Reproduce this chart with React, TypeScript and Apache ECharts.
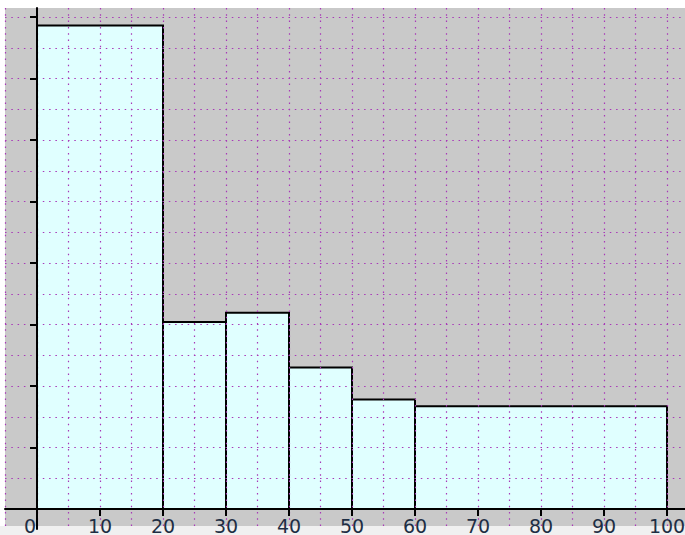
import React, { useEffect, useRef } from "react";
import * as echarts from "echarts";

// Histogram bins (variable widths) and their heights (frequency density, in tick units)
const binStarts = [0, 20, 30, 40, 50, 60];
const binEnds = [20, 30, 40, 50, 60, 100];
const densities = [7.86, 3.04, 3.19, 2.3, 1.78, 1.67];
const xTickLabels = ["0", "10", "20", "30", "40", "50", "60", "70", "80", "90", "100"];

const DOT = "#a838b8";
const dotted = { show: true, lineStyle: { color: DOT, width: 1.2, type: [1.5, 4.8] as any } };

export default function App() {
  const ref = useRef<HTMLDivElement>(null);
  useEffect(() => {
    const chart = echarts.init(ref.current!, null, { renderer: "svg" });
    const data = binStarts.map((s, i) => [s, binEnds[i], densities[i]]);
    const labelFont = { fontFamily: "DejaVu Sans", fontSize: 19, lineHeight: 19, color: "#1e2e44" };
    chart.setOption({
      animation: false,
      backgroundColor: "#ffffff",
      graphic: [
        { type: "rect", z: -100, silent: true, shape: { x: 5, y: 8, width: 680, height: 518 }, style: { fill: "#c9c9c9" } },
        { type: "rect", z: -100, silent: true, shape: { x: 0, y: 526, width: 685, height: 9 }, style: { fill: "#f0f0f0" } },
      ],
      grid: [
        { left: 37, right: 18, top: 17, bottom: 26, containLabel: false, outerBoundsMode: "none" },
        { left: 5, right: 0, top: 17, bottom: 26, containLabel: false, outerBoundsMode: "none" },
        { left: 5.5, right: 18, top: 8, bottom: 6, containLabel: false, outerBoundsMode: "none" },
      ],
      xAxis: [
        {
          gridIndex: 0, type: "value", min: 0, max: 100, interval: 10, z: 6,
          axisLine: { show: false }, splitLine: { show: false },
          axisTick: { show: true, inside: false, length: 6, lineStyle: { color: "#000", width: 2 } },
          axisLabel: {
            show: true, margin: 7, ...labelFont,
            formatter: (v: number) => {
              const s = xTickLabels[Math.round(v / 10)] ?? "";
              return v === 0 ? "{z|" + s + "}" : s;
            },
            rich: { z: { ...labelFont, padding: [0, 14, 0, 0] } },
          },
        },
        {
          gridIndex: 0, type: "value", min: 0, max: 100, interval: 10, z: 6,
          axisLine: { show: false }, splitLine: { show: false }, axisLabel: { show: false },
          axisTick: { show: true, inside: true, length: 7, lineStyle: { color: "#000", width: 2 } },
        },
        {
          gridIndex: 1, type: "value", min: 0, max: 1, z: 5,
          axisLine: { show: true, onZero: false, lineStyle: { color: "#000", width: 2 } },
          axisTick: { show: false }, axisLabel: { show: false }, splitLine: { show: false },
        },
        {
          gridIndex: 2, type: "value", min: -5, max: 100, interval: 5, z: 3,
          axisLine: { show: false }, axisTick: { show: false }, axisLabel: { show: false },
          splitLine: dotted,
        },
      ],
      yAxis: [
        {
          gridIndex: 0, type: "value", min: 0, max: 8, interval: 1, z: 6,
          axisLine: { show: false }, splitLine: { show: false }, axisLabel: { show: false },
          axisTick: { show: true, inside: false, length: 7, lineStyle: { color: "#000", width: 2 } },
        },
        {
          gridIndex: 0, type: "value", min: 0, max: 8, interval: 1, z: 6,
          axisLine: { show: false }, splitLine: { show: false }, axisLabel: { show: false },
          axisTick: { show: true, inside: true, length: 7, lineStyle: { color: "#000", width: 2 } },
        },
        {
          gridIndex: 1, type: "value", min: 0, max: 16, interval: 1, z: 3,
          axisLine: { show: false }, axisTick: { show: false }, axisLabel: { show: false },
          splitLine: dotted,
        },
        {
          gridIndex: 2, type: "value", min: 0, max: 1, z: 5,
          axisLine: { show: true, onZero: true, lineStyle: { color: "#000", width: 2 } },
          axisTick: { show: false }, axisLabel: { show: false }, splitLine: { show: false },
        },
      ],
      series: [
        {
          type: "custom",
          xAxisIndex: 0,
          yAxisIndex: 0,
          z: 1,
          data,
          encode: { x: [0, 1], y: 2 },
          renderItem: (_params: any, api: any) => {
            const p0 = api.coord([api.value(0), api.value(2)]);
            const p1 = api.coord([api.value(1), 0]);
            return {
              type: "rect",
              shape: { x: p0[0], y: p0[1], width: p1[0] - p0[0], height: p1[1] - p0[1] },
              style: { fill: "#e0ffff", stroke: "#000", lineWidth: 2 },
            };
          },
        },
      ],
    });
    return () => chart.dispose();
  }, []);
  return (
    <div
      style={{ position: "fixed", left: 0, top: 0, width: 685, height: 535, overflow: "hidden", background: "#fff" }}
    >
      <div ref={ref} style={{ width: 685, height: 535, overflow: "hidden" }} />
    </div>
  );
}
